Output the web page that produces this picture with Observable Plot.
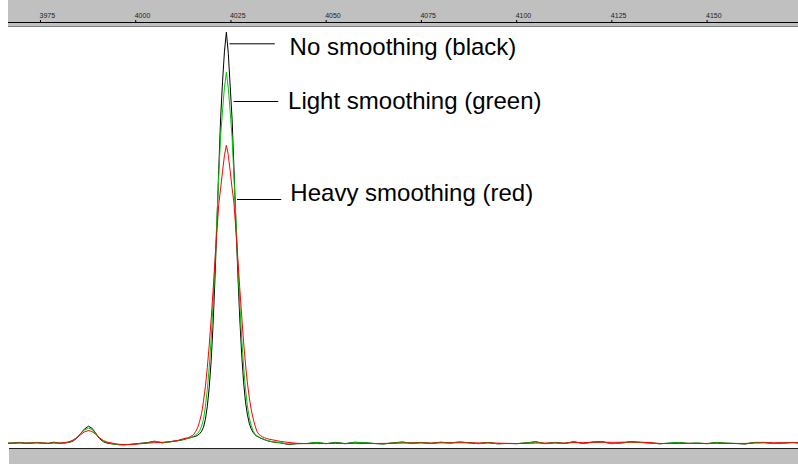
<!DOCTYPE html>
<html>
<head>
<meta charset="utf-8">
<script src="https://cdn.jsdelivr.net/npm/d3@7"></script>
<script src="https://cdn.jsdelivr.net/npm/@observablehq/plot@0.6"></script>
<style>
  body { margin: 0; background: #fff; }
  #chart svg { display: block; }
</style>
</head>
<body>
<div id="chart"></div>
<script>
// Electropherogram trace: fragment size (bp) against signal, three smoothing levels.
const basePairs = [
  3966.6, 3968, 3969.5, 3971, 3972.5, 3974, 3975.5, 3977, 3978.5, 3980,
  3981.5, 3982.5, 3983.5, 3984.5, 3985.5, 3986.5, 3987.6, 3988.5, 3989.5, 3990.5,
  3991.5, 3992.5, 3993.5, 3994.5, 3995.5,
  3997, 3999, 4001, 4003, 4005, 4007, 4009, 4011, 4012.5,
  4013.8, 4014.3, 4014.8, 4015.3, 4015.8, 4016.3, 4016.8, 4017.3, 4017.8, 4018.3,
  4018.8, 4019.3, 4019.8, 4020.3, 4020.8, 4021.3, 4021.8, 4022.3, 4022.8, 4023.3,
  4023.8, 4024.3, 4024.8, 4025.3, 4025.8, 4026.3, 4026.8, 4027.3, 4027.8, 4028.3,
  4028.8, 4029.3, 4029.8, 4030.3, 4030.8, 4031.3, 4031.8, 4032.3, 4032.8, 4033.3,
  4033.8, 4034.3, 4034.8,
  4036, 4038, 4040,
  4042.5, 4045, 4047.5, 4050, 4052.5, 4055, 4057.5, 4060, 4062.5, 4065,
  4067.5, 4070, 4072.5, 4075, 4077.5, 4080, 4082.5, 4085, 4087.5, 4090,
  4092.5, 4095, 4097.5, 4100, 4102.5, 4105, 4107.5, 4110, 4112.5, 4115,
  4117.5, 4120, 4122.5, 4125, 4127.5, 4130, 4132.5, 4135, 4137.5, 4140,
  4142.5, 4145, 4147.5, 4150, 4152.5, 4155, 4157.5, 4160, 4162.5, 4165,
  4167.5, 4170, 4172.5, 4174
];

// Signal (RFU) for the unsmoothed trace
const noSmoothing = [
  0, 3, 8, 0, 2, 8, 2, -3, 10, 0,
  3, 8, 20, 50, 95, 140, 170, 150, 100, 45,
  15, 0, -5, -10, -15,
  -16, -10, -2, 5, 20, 3, 15, 25, 35,
  50, 55, 60, 65, 70, 80, 95, 120, 160, 240,
  370, 560, 820, 1180, 1640, 2180, 2740, 3260, 3620, 3920,
  4110, 3900, 3570, 3240, 2740, 2210, 1700, 1260, 900, 620,
  420, 290, 200, 145, 110, 85, 70, 60, 50, 43,
  35, 28, 22,
  12, 3, -12,
  -5, -3, 8, -5, 8, -5, 10, 5, -3, -8,
  3, 12, 0, 8, -3, 10, 3, 12, 5, -5,
  8, -6, -3, -5, 3, 15, -5, 8, -3, 15,
  -3, 12, 15, -5, 2, 15, 8, 3, -6, 0,
  8, -2, 1, -5, 8, 0, -3, -8, 8, 8,
  -4, 2, 8, 3
];

// Signal (RFU) after light smoothing
const lightSmoothing = [
  0, 2, 5, 0, 3, 6, 0, -2, 6, 0,
  3, 10, 25, 55, 95, 130, 150, 138, 98, 50,
  20, 5, -3, -10, -14,
  -15, -12, -4, 3, 18, 6, 12, 25, 38,
  50, 55, 60, 70, 85, 100, 125, 170, 240, 370,
  540, 760, 1040, 1390, 1790, 2230, 2680, 3080, 3330, 3560,
  3710, 3550, 3310, 3060, 2660, 2240, 1800, 1410, 1060, 780,
  550, 380, 260, 180, 125, 95, 75, 63, 53, 45,
  37, 30, 24,
  15, 5, -8,
  -2, -3, 6, -4, 5, -4, 7, 4, -2, -6,
  2, 9, 1, 6, -2, 8, 2, 10, 4, -4,
  6, -5, -2, -4, 2, 12, -4, 6, -2, 12,
  -2, 9, 12, -4, 2, 12, 6, 2, -5, 0,
  6, -2, 1, -4, 6, 0, -2, -6, 7, 6,
  -3, 2, 6, 2
];

// Signal (RFU) after heavy smoothing
const heavySmoothing = [
  0, 0, 1, 1, 1, 2, 1, 0, 1, 1,
  7, 15, 30, 55, 85, 112, 127, 117, 89, 54,
  27, 11, 4, -5, -10,
  -15, -13, -6, 0, 6, 9, 15, 27, 45,
  55, 65, 75, 90, 120, 160, 220, 300, 420, 570,
  760, 980, 1240, 1520, 1820, 2110, 2390, 2550, 2720, 2880,
  2980, 2880, 2720, 2550, 2400, 2130, 1850, 1560, 1280, 1020,
  800, 610, 460, 340, 250, 180, 120, 90, 75, 63,
  55, 48, 42,
  33, 18, 8,
  -2, -4, -4, -3, -2, -3, -2, -3, -3, -2,
  -1, 1, 2, 2, 2, 3, 3, 4, 3, 3,
  2, 1, -2, -3, -2, 1, 2, 1, 2, 5,
  6, 9, 10, 8, 10, 11, 10, 5, -2, -4,
  -3, -2, -3, -2, -2, -2, -3, -2, 1, 4,
  5, 4, 5, 5
];

const sizeTicks = [3975, 4000, 4025, 4050, 4075, 4100, 4125, 4150];

// Callout labels and the leader lines pointing at the peak
const calloutText = ["No smoothing (black)", "Light smoothing (green)", "Heavy smoothing (red)"];
const calloutX = [4040.4, 4040.0, 4040.6];
const calloutY = [3884, 3344, 2420];
const leaderFrom = [4024.6, 4025.7, 4026.6];
const leaderTo = [4036.5, 4037.4, 4038.2];
const leaderY = [3994, 3417, 2437];

const traces = [
  {name: "none", values: noSmoothing, color: "#000000"},
  {name: "light", values: lightSmoothing, color: "#00c800"},
  {name: "heavy", values: heavySmoothing, color: "#ff0000"}
];

const lineMarks = traces.map(t =>
  Plot.line(basePairs.map((bp, i) => ({bp, signal: t.values[i]})), {
    x: "bp", y: "signal", stroke: t.color, strokeWidth: 1
  })
);

const callouts = calloutText.map((text, i) => ({
  text, x: calloutX[i], y: calloutY[i],
  x1: leaderFrom[i], x2: leaderTo[i], ly: leaderY[i]
}));

const chart = Plot.plot({
  width: 798,
  height: 464,
  marginLeft: 8,
  marginRight: 0,
  marginTop: 22,
  marginBottom: 16,
  x: {domain: [3966.6, 4174]},
  y: {domain: [-53, 4207], axis: null},
  style: {background: "#ffffff", fontFamily: "'Liberation Sans', Arial, Helvetica, sans-serif"},
  marks: [
    Plot.axisX(sizeTicks, {anchor: "top", tickSize: 3, tickFormat: () => "", label: null, stroke: "#000"}),
    Plot.axisX(sizeTicks, {anchor: "top", tickSize: 0, tickPadding: 5, dx: -1, textAnchor: "start",
      fontSize: 7, fill: "#222", label: null, tickFormat: d => String(d)}),
    ...lineMarks,
    Plot.link(callouts, {x1: "x1", x2: "x2", y1: "ly", y2: "ly", stroke: "#000", strokeWidth: 1}),
    Plot.text(callouts, {x: "x", y: "y", text: "text", textAnchor: "start", lineAnchor: "bottom",
      fontSize: 24, fill: "#000"})
  ]
});

// Grey instrument-style header and footer bands
const svg = d3.select(chart);
const deco = svg.insert("g", ":first-child");
deco.append("rect").attr("x", 8).attr("y", 0).attr("width", 790).attr("height", 27).attr("fill", "#c0c0c0");
deco.append("line").attr("x1", 8).attr("x2", 798).attr("y1", 22.5).attr("y2", 22.5).attr("stroke", "#000");
deco.append("line").attr("x1", 8).attr("x2", 798).attr("y1", 26.5).attr("y2", 26.5).attr("stroke", "#808080");
deco.append("rect").attr("x", 9).attr("y", 449).attr("width", 789).attr("height", 15).attr("fill", "#c0c0c0");
deco.append("line").attr("x1", 9).attr("x2", 798).attr("y1", 448.5).attr("y2", 448.5).attr("stroke", "#222");

document.getElementById("chart").append(chart);
</script>
</body>
</html>
